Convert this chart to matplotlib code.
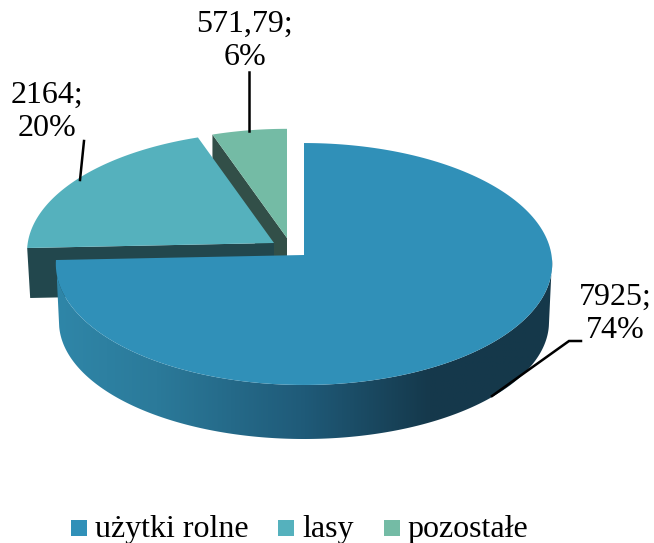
import numpy as np
import matplotlib
matplotlib.use("Agg")
import matplotlib.pyplot as plt
from matplotlib.colors import LinearSegmentedColormap
from matplotlib.patches import Polygon, Rectangle

plt.rcParams['font.family'] = ['Liberation Serif', 'DejaVu Serif']

categories = ['użytki rolne', 'lasy', 'pozostałe']
values = [7925, 2164, 571.79]
value_labels = ['7925', '2164', '571,79']
percent_labels = ['74%', '20%', '6%']
colors = ['#3090b8', '#55b1bd', '#74bba5']

RX, RY, K = 247.5, 120.3, 0.0744


# punkt na elipsie w perspektywie, kat od godziny 12 zgodnie z zegarem
def rim(cx, cy, deg, scale=1.0):
    t = np.radians(deg)
    f = scale / (1 + K * np.cos(t))
    return np.column_stack([cx + RX * np.sin(t) * f, cy - RY * np.cos(t) * f])


def slice_top(cx, cy, a0, a1, scale=1.0):
    arc = rim(cx, cy, np.linspace(a0, a1, 200), scale)
    return np.vstack([[cx, cy], arc])


fig = plt.figure(figsize=(6.54, 5.43), dpi=100)
ax = fig.add_axes([0, 0, 1, 1])
ax.set_xlim(0, 654)
ax.set_ylim(543, 0)
ax.axis('off')

shares = np.array(values) / np.sum(values) * 360
ends = np.cumsum(shares)
starts = ends - shares

# pozostale
c = (287, 238)
top = slice_top(c[0], c[1], starts[2], 360, 0.975)
corner = top[1]
ax.add_patch(Polygon([corner, c, (c[0], c[1] + 50), (corner[0], corner[1] + 50)], fc='#324f48', ec='none'))
ax.add_patch(Polygon(top, fc=colors[2], ec='none'))

# lasy
c = (274, 243)
top = slice_top(c[0], c[1], starts[1], ends[1], 0.995)
left = top[1]
ax.add_patch(Polygon([left, c, (c[0], c[1] + 50), (left[0] + 3, left[1] + 50)], fc='#22474d', ec='none'))
ax.add_patch(Polygon(top, fc=colors[1], ec='none'))

# uzytki rolne, bok z gradientem
c = (304, 255)
angles = np.linspace(92, ends[0], 300)
upper = rim(c[0], c[1], angles)
t = np.radians(angles)
lower = np.column_stack([c[0] + 245 * np.sin(t), 322 - 117 * np.cos(t)])
side = Polygon(np.vstack([upper, lower[::-1]]), fc='none', ec='none')
ax.add_patch(side)
cmap = LinearSegmentedColormap.from_list('side', [(0, '#2f86a8'), (0.2, '#2b7a9a'), (0.5, '#1f5a78'),
                                                  (0.75, '#15394c'), (1, '#15384a')])
im = ax.imshow(np.linspace(0, 1, 256)[None, :], cmap=cmap, extent=(57, 553, 450, 250), aspect='auto', zorder=2)
im.set_clip_path(side)
ax.set_xlim(0, 654)
ax.set_ylim(543, 0)
ax.add_patch(Polygon(slice_top(c[0], c[1], 0, ends[0]), fc=colors[0], ec='none', zorder=3))

# linie odniesienia
for xs, ys in [([492, 569, 581], [396, 341, 341]), ([84, 80], [141, 180]), ([249, 249], [72, 131])]:
    ax.plot(xs, ys, color='black', lw=1.8, zorder=4, solid_joinstyle='miter')

# etykiety
for i, (x, y) in enumerate([(615, 314), (47, 112), (245, 41)]):
    ax.text(x, y, value_labels[i] + ';\n' + percent_labels[i], ha='center', va='center',
            fontsize=23, linespacing=1.22, color='black', zorder=5)

# legenda
for name, col, bx, tx in zip(categories, colors, [71, 278, 384], [95, 302, 407]):
    ax.add_patch(Rectangle((bx, 520), 16, 16, fc=col, ec='none'))
    ax.text(tx, 537, name, ha='left', va='baseline', fontsize=23, color='black')

fig.savefig('out.png', dpi=100)
